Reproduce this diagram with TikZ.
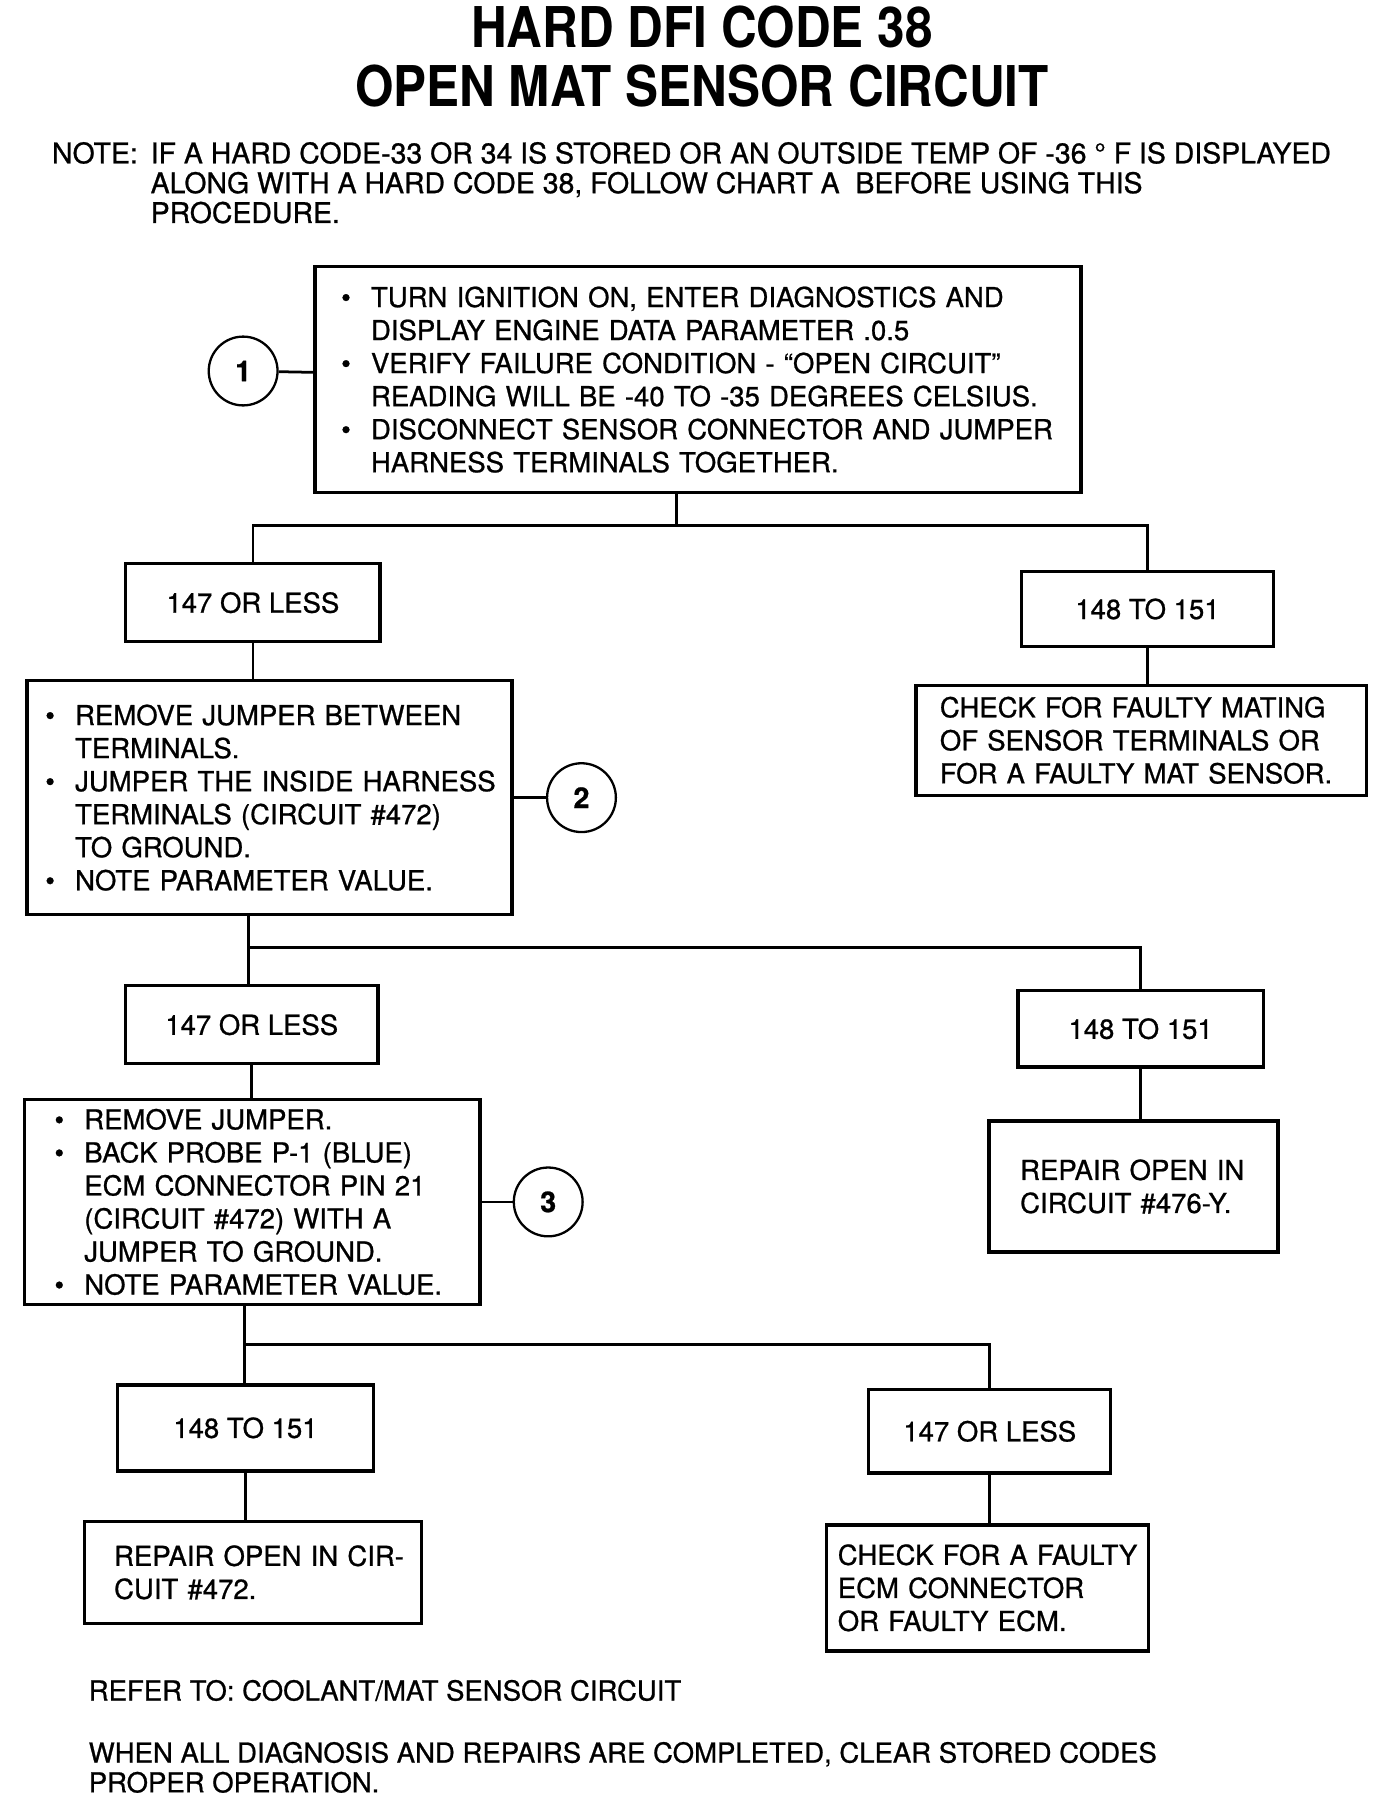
\documentclass[tikz,border=0pt]{standalone}
\usepackage{fontspec}
\setmainfont[FakeBold=0.8]{TeX Gyre Heros}
\newfontfamily\titlefont[FakeStretch=0.88]{TeX Gyre Heros}
\usetikzlibrary{positioning,calc}
\newlength{\bulw}
\setlength{\bulw}{13pt}
\newcommand{\bul}[1]{\mbox{\makebox[\bulw][l]{\textbullet}#1}}
\newcommand{\cont}[1]{\mbox{\hspace*{\bulw}#1}}
\newcommand{\lne}[1]{\mbox{#1}}
\tikzset{
	stepbox/.style={
		rectangle,
		draw,
		line width=1.5pt,
		anchor=north west,
		align=left,
		inner ysep=0pt,
		font=\fontsize{12}{14.4}\selectfont,
	},
	valbox/.style={
		rectangle,
		draw,
		line width=1.5pt,
		anchor=north west,
		align=center,
		inner sep=0pt,
		font=\fontsize{12}{14.4}\selectfont,
	},
	callout/.style={
		circle,
		draw,
		line width=1pt,
		minimum size=30pt,
		inner sep=0pt,
		font=\bfseries\fontsize{12.5}{14}\selectfont,
	},
	link/.style={
		line width=1.2pt,
	}
}

\begin{document}
\begin{tikzpicture}[x=0.5pt,y=-0.5pt]
\useasboundingbox (0,0) rectangle (1200,1566);

% heading and note
\node[font=\titlefont\bfseries\fontsize{24.5}{26}\selectfont] (title) at (612,24) {HARD DFI CODE 38};
\node[font=\titlefont\bfseries\fontsize{24.5}{26}\selectfont] (subtitle) at (612,75) {OPEN MAT SENSOR CIRCUIT};
\node[anchor=north west,inner sep=0pt,font=\fontsize{12.4}{13}\selectfont] (notelbl) at (45,123.5) {NOTE:};
\node[anchor=north west,inner sep=0pt,align=left,font=\fontsize{12.4}{13}\selectfont] (note) at (131,123.5)
  {IF A HARD CODE-33 OR 34 IS STORED OR AN OUTSIDE TEMP OF -36 ° F IS DISPLAYED\\
   ALONG WITH A HARD CODE 38, FOLLOW CHART A\ \ BEFORE USING THIS\\
   PROCEDURE.};

% first test
\node[stepbox,text width=311pt,minimum height=98.5pt,inner xsep=11.5pt] (test1) at (273,231)
  {\bul{TURN IGNITION ON, ENTER DIAGNOSTICS AND}\\
   \cont{DISPLAY ENGINE DATA PARAMETER .0.5}\\
   \bul{VERIFY FAILURE CONDITION - ``OPEN CIRCUIT''}\\
   \cont{READING WILL BE -40 TO -35 DEGREES CELSIUS.}\\
   \bul{DISCONNECT SENSOR CONNECTOR AND JUMPER}\\
   \cont{HARNESS TERMINALS TOGETHER.}};
\node[callout,left=15pt of test1,yshift=3.75pt] (step1) {1};
\node[valbox,minimum width=111pt,minimum height=34pt] (low1) at (108,490) {147 OR LESS};
\node[valbox,minimum width=110pt,minimum height=32.5pt] (high1) at (889,497) {148 TO 151};
\node[stepbox,text width=175.5pt,minimum height=48pt,inner xsep=10.5pt] (fix1) at (797,596)
  {\lne{CHECK FOR FAULTY MATING}\\
   \lne{OF SENSOR TERMINALS OR}\\
   \lne{FOR A FAULTY MAT SENSOR.}};

% second test
\node[stepbox,text width=195.5pt,minimum height=102pt,inner xsep=8pt] (test2) at (22,592)
  {\bul{REMOVE JUMPER BETWEEN}\\
   \cont{TERMINALS.}\\
   \bul{JUMPER THE INSIDE HARNESS}\\
   \cont{TERMINALS (CIRCUIT \#472)}\\
   \cont{TO GROUND.}\\
   \bul{NOTE PARAMETER VALUE.}};
\node[callout,right=14pt of test2] (step2) {2};
\node[valbox,minimum width=110pt,minimum height=34pt] (low2) at (108,858) {147 OR LESS};
\node[valbox,minimum width=107pt,minimum height=33.5pt] (high2) at (886,862) {148 TO 151};
\node[stepbox,text width=99pt,minimum height=57pt,inner xsep=13.5pt] (fix2) at (861,976)
  {\lne{REPAIR OPEN IN}\\
   \lne{CIRCUIT \#476-Y.}};

% third test
\node[stepbox,text width=172.5pt,minimum height=89.5pt,inner xsep=13pt] (test3) at (20,957)
  {\bul{REMOVE JUMPER.}\\
   \bul{BACK PROBE P-1 (BLUE)}\\
   \cont{ECM CONNECTOR PIN 21}\\
   \cont{(CIRCUIT \#472) WITH A}\\
   \cont{JUMPER TO GROUND.}\\
   \bul{NOTE PARAMETER VALUE.}};
\node[callout,right=13.5pt of test3] (step3) {3};
\node[valbox,minimum width=111.5pt,minimum height=37.5pt] (high3) at (101,1206) {148 TO 151};
\node[valbox,minimum width=105.5pt,minimum height=36.5pt] (low3) at (756,1210) {147 OR LESS};
\node[stepbox,text width=121pt,minimum height=44.5pt,inner xsep=13pt] (fix3) at (72,1325)
  {\lne{REPAIR OPEN IN CIR-}\\
   \lne{CUIT \#472.}};
\node[stepbox,text width=130.5pt,minimum height=55pt,inner xsep=5pt] (fix4) at (719,1328)
  {\lne{CHECK FOR A FAULTY}\\
   \lne{ECM CONNECTOR}\\
   \lne{OR FAULTY ECM.}};

% footer
\node[anchor=west,inner sep=0pt,font=\fontsize{12}{13}\selectfont] (refer) at (77,1474) {REFER TO: COOLANT/MAT SENSOR CIRCUIT};
\node[anchor=north west,inner sep=0pt,align=left,font=\fontsize{12}{13}\selectfont] (clear) at (77,1518.5)
  {WHEN ALL DIAGNOSIS AND REPAIRS ARE COMPLETED, CLEAR STORED CODES\\
   PROPER OPERATION.};

% connectors
\coordinate (j1) at (590,458);
\coordinate (j2) at (217,826);
\coordinate (j3) at (213,1172);

\draw[link] (step1) -- (test1);
\draw[link] (test1.south -| j1) -- (j1);
\draw[link] (low1.north) |- (j1) -| (high1.north);
\draw[link] (low1.south) -- (low1.south |- test2.north);
\draw[link] (high1.south) -- (high1.south |- fix1.north);

\draw[link] (test2) -- (step2);
\draw[link] (test2.south -| j2) -- (low2.north -| j2);
\draw[link] (j2) -| (high2.north);
\draw[link] (high2.south) -- (high2.south |- fix2.north);
\draw[link] (low2.south) -- (low2.south |- test3.north);

\draw[link] (test3) -- (step3);
\draw[link] (test3.south -| j3) -- (high3.north -| j3);
\draw[link] (j3) -| (low3.north);
\draw[link] (high3.south) -- (high3.south |- fix3.north);
\draw[link] (low3.south) -- (low3.south |- fix4.north);

\end{tikzpicture}
\end{document}
